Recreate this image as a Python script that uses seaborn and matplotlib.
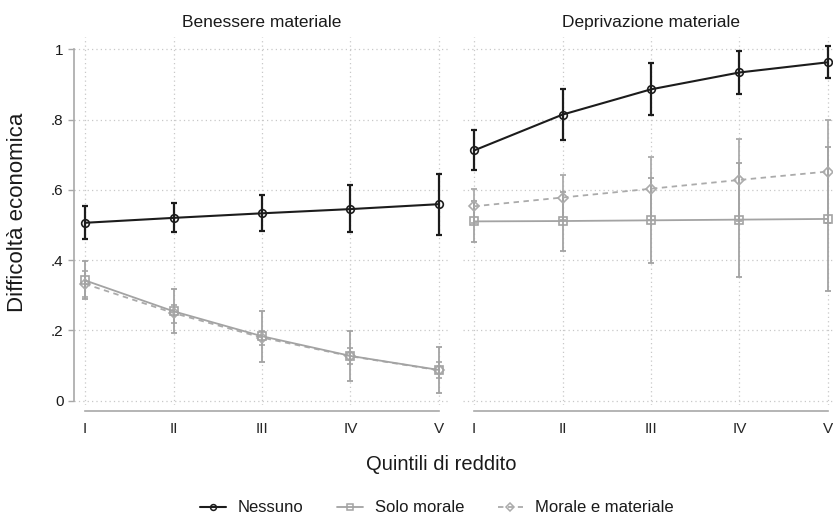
import matplotlib
matplotlib.use("Agg")
import matplotlib.pyplot as plt
from matplotlib.lines import Line2D
import seaborn as sns
import pandas as pd
import numpy as np

sns.set_theme(style="white")
plt.rcParams['font.family'] = ['Liberation Sans', 'DejaVu Sans']

quintili = ["I", "II", "III", "IV", "V"]
pannelli = ["Benessere materiale", "Deprivazione materiale"]
gruppi = ["Nessuno", "Solo morale", "Morale e materiale"]

# Benessere materiale
ben_nessuno = [0.506, 0.520, 0.533, 0.545, 0.559]
ben_nessuno_lo = [0.461, 0.479, 0.482, 0.479, 0.472]
ben_nessuno_hi = [0.555, 0.562, 0.584, 0.613, 0.646]
ben_solo = [0.342, 0.254, 0.183, 0.127, 0.087]
ben_solo_lo = [0.290, 0.192, 0.111, 0.055, 0.021]
ben_solo_hi = [0.396, 0.318, 0.254, 0.199, 0.152]
ben_mm = [0.332, 0.249, 0.179, 0.126, 0.086]
ben_mm_lo = [0.295, 0.222, 0.159, 0.104, 0.064]
ben_mm_hi = [0.370, 0.273, 0.199, 0.149, 0.109]

# Deprivazione materiale
dep_nessuno = [0.712, 0.814, 0.886, 0.934, 0.963]
dep_nessuno_lo = [0.656, 0.742, 0.813, 0.873, 0.917]
dep_nessuno_hi = [0.769, 0.887, 0.960, 0.996, 1.010]
dep_solo = [0.510, 0.511, 0.513, 0.515, 0.517]
dep_solo_lo = [0.452, 0.427, 0.392, 0.352, 0.313]
dep_solo_hi = [0.568, 0.595, 0.634, 0.677, 0.721]
dep_mm = [0.553, 0.578, 0.603, 0.628, 0.652]
dep_mm_lo = [0.504, 0.514, 0.514, 0.511, 0.506]
dep_mm_hi = [0.602, 0.642, 0.692, 0.745, 0.798]

yticks = [0, 0.2, 0.4, 0.6, 0.8, 1.0]
yticklabels = ["0", ".2", ".4", ".6", ".8", "1"]

rows = []
series = {
    pannelli[0]: [(gruppi[0], ben_nessuno, ben_nessuno_lo, ben_nessuno_hi),
                  (gruppi[1], ben_solo, ben_solo_lo, ben_solo_hi),
                  (gruppi[2], ben_mm, ben_mm_lo, ben_mm_hi)],
    pannelli[1]: [(gruppi[0], dep_nessuno, dep_nessuno_lo, dep_nessuno_hi),
                  (gruppi[1], dep_solo, dep_solo_lo, dep_solo_hi),
                  (gruppi[2], dep_mm, dep_mm_lo, dep_mm_hi)],
}
for p, lst in series.items():
    for g, v, lo, hi in lst:
        for i, q in enumerate(quintili):
            rows.append(dict(panel=p, group=g, q=q, pos=i, value=v[i], lo=lo[i], hi=hi[i]))
df = pd.DataFrame(rows)

styles = {
    "Nessuno": dict(color="#1c1c1c", marker="o", ls="-", lw=1.5, ms=5.5, elw=1.6, lms=4.2),
    "Solo morale": dict(color="#a3a3a3", marker="s", ls="-", lw=1.3, ms=5.5, elw=1.3, lms=4.2),
    "Morale e materiale": dict(color="#ababab", marker="D", ls=(0, (3, 2.5)), lw=1.3, ms=4.8, elw=1.3, lms=4.0),
}

W, H = 833, 514
fig = plt.figure(figsize=(W / 100, H / 100), dpi=100)
fig.patch.set_facecolor("white")

def px_axes(x0, x1, y0, y1):
    return fig.add_axes([x0 / W, 1 - y1 / H, (x1 - x0) / W, (y1 - y0) / H])

ax_l = px_axes(74, 450, 37, 405)
ax_r = px_axes(463, 839, 37, 405)

for ax, p in zip([ax_l, ax_r], pannelli):
    sub = df[df.panel == p]
    for g in [gruppi[2], gruppi[1], gruppi[0]]:
        s = styles[g]
        d = sub[sub.group == g]
        ax.errorbar(d.pos, d.value, yerr=[d.value - d.lo, d.hi - d.value],
                    fmt="none", ecolor=s["color"], elinewidth=s["elw"],
                    capsize=2.4, capthick=s["elw"], zorder=2)
        sns.lineplot(data=d, x="pos", y="value", ax=ax, color=s["color"],
                     linewidth=s["lw"], errorbar=None, legend=False, zorder=3)
        ln = ax.lines[-1]
        ln.set_linestyle(s["ls"])
        ln.set_marker(s["marker"])
        ln.set_markersize(s["ms"])
        ln.set_markerfacecolor("none")
        ln.set_markeredgecolor(s["color"])
        ln.set_markeredgewidth(1.2)
    ax.set_xlim(-0.125, 4.125)
    ax.set_ylim(-0.0128, 1.035)
    ax.set_xticks(range(len(quintili)))
    ax.set_xticklabels(quintili, fontsize=11, color="#1a1a1a")
    ax.set_yticks(yticks)
    ax.grid(True, which="major", axis="both", color="#c8c8c8", linestyle=(0, (1, 2.5)), linewidth=0.9)
    ax.set_axisbelow(True)
    for sp in ["top", "right"]:
        ax.spines[sp].set_visible(False)
    ax.spines["bottom"].set_position(("outward", 4.5))
    ax.spines["bottom"].set_bounds(0, 4)
    ax.spines["bottom"].set_color("#a8a8a8")
    ax.spines["bottom"].set_linewidth(1.2)
    ax.tick_params(axis="x", length=4.5, width=1.0, color="#a8a8a8", pad=3)
    ax.set_xlabel("")
    ax.set_ylabel("")
    ax.set_title(p, fontsize=12.5, pad=7, color="#1a1a1a")

ax_l.spines["left"].set_bounds(0, 1)
ax_l.spines["left"].set_color("#a8a8a8")
ax_l.spines["left"].set_linewidth(1.2)
ax_l.set_yticklabels(yticklabels, fontsize=11, color="#1a1a1a")
ax_l.tick_params(axis="y", length=4.5, width=1.0, color="#a8a8a8", pad=3, left=True)

ax_r.spines["left"].set_visible(False)
ax_r.tick_params(axis="y", left=False, labelleft=False)

fig.text(441 / W, 1 - 465 / H, "Quintili di reddito", ha="center", va="center", fontsize=14.5, color="#1a1a1a")
fig.text(18 / W, 1 - 212 / H, "Difficoltà economica", ha="center", va="center", rotation=90, fontsize=16, color="#1a1a1a")

leg_handles = []
for g in gruppi:
    s = styles[g]
    leg_handles.append(Line2D([], [], color=s["color"], linestyle=s["ls"], linewidth=s["lw"],
                              marker=s["marker"], markersize=s["lms"], markerfacecolor="none",
                              markeredgecolor=s["color"], markeredgewidth=1.1))
leg = fig.legend(leg_handles, gruppi, loc="center", bbox_to_anchor=(437 / W, 1 - 508 / H),
                 ncol=3, frameon=False, fontsize=12, handlelength=1.55, columnspacing=2.0,
                 handletextpad=0.72, labelcolor="#1a1a1a")

fig.savefig("out.png", dpi=100, facecolor="white")
